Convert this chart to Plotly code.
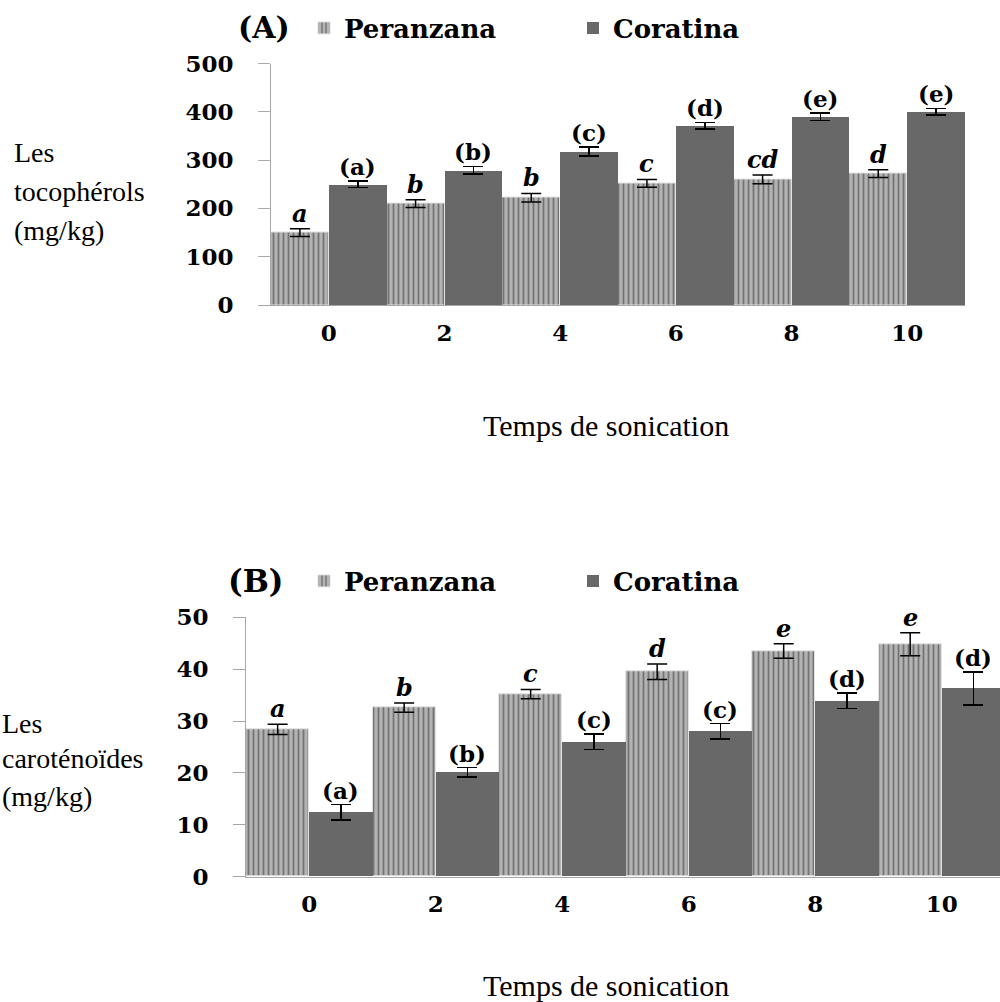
import plotly.graph_objects as go

# ---------------- data ----------------
times = ["0", "2", "4", "6", "8", "10"]
series_names = ["Peranzana", "Coratina"]

toco_per = [150, 210, 222, 252, 260, 272]
toco_per_err = [8, 8, 9, 8, 9, 8]
toco_cor = [250, 279, 318, 371, 390, 400]
toco_cor_err = [7, 8, 9, 7, 8, 7]
toco_per_letters = ["a", "b", "b", "c", "cd", "d"]
toco_cor_letters = ["(a)", "(b)", "(c)", "(d)", "(e)", "(e)"]

caro_per = [28.4, 32.6, 35.2, 39.5, 43.5, 44.8]
caro_per_err = [1.0, 0.9, 0.9, 1.5, 1.4, 2.2]
caro_cor = [12.4, 20.1, 26.0, 28.0, 33.9, 36.3]
caro_cor_err = [1.5, 0.9, 1.5, 1.5, 1.5, 3.2]
caro_per_letters = ["a", "b", "c", "d", "e", "e"]
caro_cor_letters = ["(a)", "(b)", "(c)", "(c)", "(d)", "(d)"]

# ---------------- style ----------------
W, H = 1000, 1002
SERIF_B = "DejaVu Serif"
DOC = "Liberation Serif"
PER_BG, PER_FG = "#b3b3b3", "#737373"
COR = "#686868"
AXC = "#a6a6a6"


def py(p):
    return 1 - p / H


fig = go.Figure()


def add_panel(per, per_err, cor, cor_err, xa, ya, legend, show):
    fig.add_trace(go.Bar(
        x=times, y=per, name=series_names[0], xaxis=xa, yaxis=ya,
        legend=legend, showlegend=show, offsetgroup="p",
        marker=dict(color=PER_BG, line=dict(color="#e2e2e2", width=1),
                    pattern=dict(shape="|", bgcolor=PER_BG, fgcolor=PER_FG,
                                 size=5, solidity=0.35, fillmode="replace")),
        error_y=dict(type="data", array=per_err, color="black",
                     thickness=1.5, width=10),
    ))
    fig.add_trace(go.Bar(
        x=times, y=cor, name=series_names[1], xaxis=xa, yaxis=ya,
        legend=legend, showlegend=show, offsetgroup="c",
        marker=dict(color=COR, line=dict(width=0)),
        error_y=dict(type="data", array=cor_err, color="black",
                     thickness=1.5, width=10),
    ))


add_panel(toco_per, toco_per_err, toco_cor, toco_cor_err, "x", "y", "legend", True)
add_panel(caro_per, caro_per_err, caro_cor, caro_cor_err, "x2", "y2", "legend2", True)

annotations = []


def letters(vals, errs, labs, xref, yref, off, italic):
    for i, (v, e, t) in enumerate(zip(vals, errs, labs)):
        txt = f"<b><i>{t}</i></b>" if italic else f"<b>{t}</b>"
        annotations.append(dict(
            x=i + off, y=v + e, xref=xref, yref=yref, text=txt,
            showarrow=False, yanchor="bottom", yshift=-1,
            font=dict(family=SERIF_B, size=24 if italic else 23, color="black"),
        ))


letters(toco_per, toco_per_err, toco_per_letters, "x", "y", -0.25, True)
letters(toco_cor, toco_cor_err, toco_cor_letters, "x", "y", 0.25, False)
letters(caro_per, caro_per_err, caro_per_letters, "x2", "y2", -0.25, True)
letters(caro_cor, caro_cor_err, caro_cor_letters, "x2", "y2", 0.25, False)

# panel titles
annotations.append(dict(x=236 / W, y=py(28), xref="paper", yref="paper",
                        text="<b>(A)</b>", showarrow=False, xanchor="left",
                        yanchor="middle", font=dict(family=SERIF_B, size=30, color="black")))
annotations.append(dict(x=226 / W, y=py(581), xref="paper", yref="paper",
                        text="<b>(B)</b>", showarrow=False, xanchor="left",
                        yanchor="middle", font=dict(family=SERIF_B, size=31, color="black")))

# left side labels (document text)
for txt, yy, xx in [("Les", 152, 12), ("tocophérols", 192, 12), ("(mg/kg)", 231, 12),
                    ("Les", 723, 0), ("caroténoïdes", 758, 0), ("(mg/kg)", 796, 0)]:
    annotations.append(dict(x=xx / W, y=py(yy), xref="paper", yref="paper",
                            text=txt, showarrow=False, xanchor="left",
                            yanchor="middle", font=dict(family=DOC, size=28, color="black")))

for yy in (425, 985):
    annotations.append(dict(x=606 / W, y=py(yy), xref="paper", yref="paper",
                            text="Temps de sonication", showarrow=False,
                            xanchor="center", yanchor="middle",
                            font=dict(family=DOC, size=30, color="black")))

tickfont = dict(family=SERIF_B, size=23, color="black", weight="bold")

common_x = dict(type="category", showline=True, linecolor=AXC, linewidth=1,
                ticks="", showgrid=False, zeroline=False, tickfont=tickfont,
                ticklabelstandoff=7, automargin=False)
common_y = dict(showline=True, linecolor=AXC, linewidth=1, ticks="outside",
                ticklen=12, tickcolor=AXC, tickwidth=1, showgrid=False,
                zeroline=False, tickfont=tickfont, ticklabelstandoff=20,
                automargin=False)

leg_common = dict(orientation="h", xanchor="left", yanchor="middle",
                  bgcolor="rgba(0,0,0,0)", font=dict(family=SERIF_B, size=26,
                                                     color="black", weight="bold"),
                  itemclick=False, itemdoubleclick=False, entrywidth=224,
                  entrywidthmode="pixels")

fig.update_layout(
    width=W, height=H, margin=dict(l=0, r=0, t=0, b=0, autoexpand=False),
    paper_bgcolor="white", plot_bgcolor="white",
    barmode="group", bargap=0, bargroupgap=0,
    xaxis=dict(domain=[271 / W, 965 / W], range=[-0.5, 5.5], anchor="y", **common_x),
    yaxis=dict(domain=[py(305), py(63.5)], range=[0, 500], dtick=100, anchor="x", **common_y),
    xaxis2=dict(domain=[246 / W, 1.0], range=[-0.5, 5.46], anchor="y2", **common_x),
    yaxis2=dict(domain=[py(876.7), py(617.3)], range=[0, 50], dtick=10, anchor="x2", **common_y),
    legend=dict(x=304 / W, y=py(28), **leg_common),
    legend2=dict(x=304 / W, y=py(581), **leg_common),
    annotations=annotations,
)

fig.write_html("out.html")
